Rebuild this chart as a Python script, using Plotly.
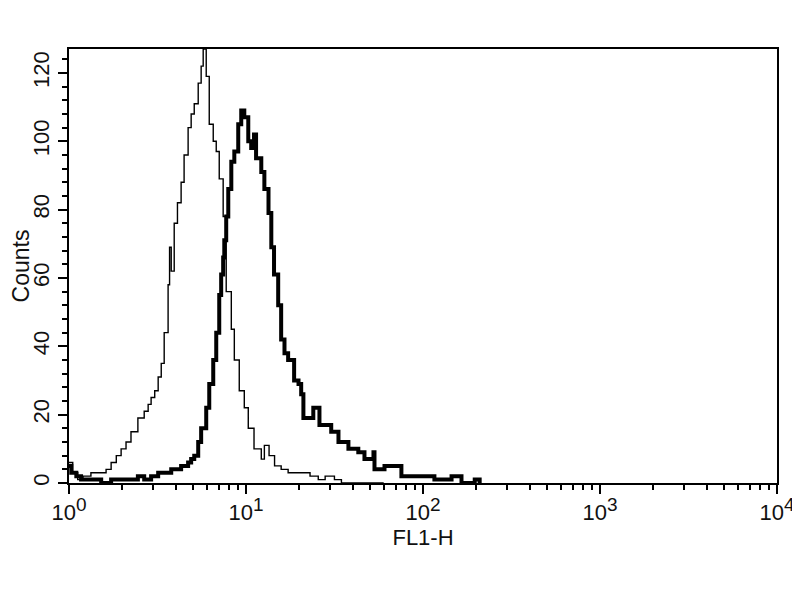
import plotly.graph_objects as go

# control (thin line) histogram
ctrl_fl1 = [1.00, 1.05, 1.12, 1.20, 1.33, 1.52, 1.62, 1.73, 1.85, 1.97, 2.10, 2.24,
            2.45, 2.66, 2.80, 2.91, 3.05, 3.19, 3.32, 3.45, 3.63, 3.70, 3.78, 3.93,
            4.10, 4.30, 4.47, 4.71, 4.90, 5.10, 5.37, 5.58, 5.73, 5.96, 6.20, 6.53,
            6.79, 7.06, 7.43, 7.73, 8.26, 8.59, 9.16, 9.78, 10.3, 11.1, 12.2, 12.7,
            13.5, 14.5, 15.8, 17.3, 19.0, 20.5, 23.0, 25.6, 28.0, 31.6, 34.6, 60.0]
ctrl_counts = [6, 3, 1, 2, 3, 3, 4, 6, 8, 10, 12, 15,
               19, 21, 23, 25, 27, 31, 35, 44, 58, 69, 62, 76,
               82, 88, 96, 104, 108, 111, 117, 122, 127, 119, 105, 100,
               97, 89, 78, 56, 45, 36, 27, 22, 16, 10, 7, 11,
               8, 5, 4, 3, 3, 3, 2, 1, 2, 1, 0, 0]

# stained sample (thick line)
stain_fl1 = [1.00, 1.03, 1.10, 1.17, 1.33, 1.52, 1.73, 1.97, 2.24, 2.45, 2.66, 2.91,
             3.19, 3.45, 3.78, 3.93, 4.30, 4.71, 4.90, 5.10, 5.37, 5.58, 5.96, 6.20,
             6.53, 6.79, 7.06, 7.24, 7.43, 7.54, 7.73, 7.94, 8.26, 8.59, 9.04, 9.40,
             9.78, 10.3, 10.7, 11.1, 11.4, 12.2, 12.7, 13.4, 13.9, 14.4, 15.2, 15.8,
             16.5, 17.3, 18.7, 19.8, 20.5, 21.1, 24.0, 26.0, 30.3, 33.3, 37.9, 43.1,
             46.7, 52.5, 53.2, 60.6, 69.0, 75.5, 98.0, 116, 145, 165, 196, 209]
stain_counts = [5, 3, 2, 1, 1, 0, 1, 1, 1, 2, 1, 2,
                3, 3, 4, 4, 5, 6, 7, 8, 12, 16, 22, 29,
                36, 44, 55, 61, 66, 71, 78, 86, 94, 97, 105, 109,
                107, 100, 98, 102, 95, 91, 86, 79, 69, 61, 52, 42,
                38, 36, 30, 29, 26, 19, 22, 17, 15, 12, 10, 9,
                7, 9, 4, 5, 5, 2, 2, 1, 2, 0, 1, 0]

major_x = [1, 10, 100, 1000, 10000]
decades = ["0", "1", "2", "3", "4"]
major_x_text = ['10<sup><span style="font-size:19px">%s</span></sup>' % d for d in decades]
minor_x = [m * d for d in [1, 10, 100, 1000] for m in range(2, 10)]
major_y = [0, 20, 40, 60, 80, 100, 120]

FONT = "Liberation Sans Narrow, Arial Narrow, Liberation Sans, Arial, sans-serif"

fig = go.Figure()

fig.add_trace(go.Scatter(
    x=ctrl_fl1, y=ctrl_counts,
    mode="lines",
    line=dict(shape="hv", color="black", width=1.4),
    showlegend=False
))

fig.add_trace(go.Scatter(
    x=stain_fl1, y=stain_counts,
    mode="lines",
    line=dict(shape="hv", color="black", width=4),
    showlegend=False
))

fig.update_xaxes(
    type="log", range=[0, 4], automargin=False,
    tickvals=major_x, ticktext=major_x_text,
    ticks="outside", ticklen=9, tickwidth=2, tickcolor="black",
    minor=dict(tickvals=minor_x, ticks="outside", ticklen=5, tickwidth=1.5,
               tickcolor="black"),
    showline=True, linewidth=2, linecolor="black", mirror=True,
    showgrid=False, zeroline=False,
    title=dict(text="FL1-H", font=dict(size=22, family=FONT, color="#111"),
               standoff=2),
    tickfont=dict(size=22, family=FONT, color="#111"),
)

fig.update_yaxes(
    range=[0, 127], automargin=False,
    tickvals=major_y, tickangle=-90,
    ticks="outside", ticklen=9, tickwidth=2, tickcolor="black",
    minor=dict(dtick=4, tick0=0, ticks="outside", ticklen=5, tickwidth=1.5,
               tickcolor="black"),
    showline=True, linewidth=2, linecolor="black", mirror=True,
    showgrid=False, zeroline=False,
    title=dict(text="Counts", font=dict(size=23, family=FONT, color="#111"),
               standoff=10),
    tickfont=dict(size=22, family=FONT, color="#111"),
)

# page body has an 8px margin, so the figure is a bit smaller and shifted
fig.update_layout(
    width=792, height=592,
    margin=dict(l=61, r=23, t=41, b=117),
    plot_bgcolor="white", paper_bgcolor="white",
    font=dict(family=FONT),
)

fig.write_html("out.html")
